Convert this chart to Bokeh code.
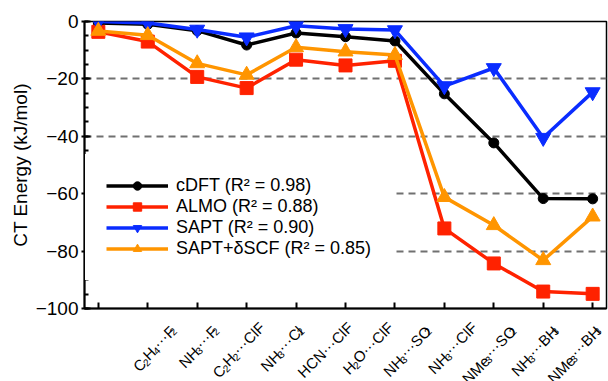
import math
from bokeh.plotting import figure
from bokeh.layouts import column
from bokeh.models import Range1d, FixedTicker
from bokeh.core.properties import value
from bokeh.embed import file_html
from bokeh.resources import INLINE

# Complexes along the x axis ("_d" marks a subscript digit)
complexes = [
    "C_2H_4\u00b7\u00b7\u00b7F_2",
    "NH_3\u00b7\u00b7\u00b7F_2",
    "C_2H_2\u00b7\u00b7\u00b7ClF",
    "NH_3\u00b7\u00b7\u00b7Cl_2",
    "HCN\u00b7\u00b7\u00b7ClF",
    "H_2O\u00b7\u00b7\u00b7ClF",
    "NH_3\u00b7\u00b7\u00b7SO_2",
    "NH_3\u00b7\u00b7\u00b7ClF",
    "NMe_3\u00b7\u00b7\u00b7SO_2",
    "NH_3\u00b7\u00b7\u00b7BH_3",
    "NMe_3\u00b7\u00b7\u00b7BH_3",
]

# Charge-transfer energies (kJ/mol)
cdft = [-0.5, -1.0, -3.2, -8.2, -4.0, -5.3, -6.8, -25.2, -42.3, -61.7, -61.8]
almo = [-3.6, -7.0, -19.3, -23.2, -13.3, -15.3, -13.7, -72.1, -84.3, -94.1, -94.9]
sapt = [0.0, -0.5, -2.8, -5.5, -1.5, -2.6, -3.0, -22.5, -16.2, -40.5, -24.6]
sapt_dscf = [-3.3, -4.8, -14.6, -18.6, -9.0, -10.5, -11.7, -61.2, -71.0, -83.2, -68.0]

y_ticks = [0, -20, -40, -60, -80, -100]
grid_levels = [-20, -40, -60, -80]

FONT = "Liberation Sans"
W = 608
LEFT, RIGHT, TOP, BOTTOM = 84, 2, 21, 10
MAIN_H = 318                 # frame bottom lands at MAIN_H - BOTTOM
STRIP_H = 381 - MAIN_H
X_LO, X_HI = -0.28, 10.28

p = figure(width=W, height=MAIN_H, output_backend="svg", toolbar_location=None,
           x_range=Range1d(X_LO, X_HI), y_range=Range1d(-100, 0),
           min_border_left=LEFT, min_border_right=RIGHT, min_border_top=TOP,
           min_border_bottom=BOTTOM)

p.outline_line_color = "black"
p.outline_line_width = 1.5
p.background_fill_color = "white"
p.border_fill_color = "white"

xs = list(range(len(complexes)))

series = [
    (cdft, "#000000", "circle", 10, "cDFT (R\u00b2 = 0.98)"),
    (almo, "#ff2200", "square", 13, "ALMO (R\u00b2 = 0.88)"),
    (sapt, "#0a2cff", "inverted_triangle", 15, "SAPT (R\u00b2 = 0.90)"),
    (sapt_dscf, "#ff9500", "triangle", 15, "SAPT+\u03b4SCF (R\u00b2 = 0.85)"),
]

for ys, color, marker, size, label in series:
    p.line(xs, ys, line_color=color, line_width=3.5, legend_label=label)
    p.scatter(xs, ys, marker=marker, size=size, fill_color=color,
              line_color=color, legend_label=label)

# Axes (category names are typeset in the strip below)
p.xaxis.ticker = FixedTicker(ticks=xs)
p.xaxis.major_label_overrides = {i: "" for i in xs}
p.xaxis.major_label_text_font_size = "0px"
p.xaxis.major_label_standoff = 0
p.xaxis.major_tick_in = 6
p.xaxis.major_tick_out = 0
p.xaxis.minor_tick_line_color = None

p.yaxis.ticker = FixedTicker(ticks=y_ticks, minor_ticks=list(range(-100, 1, 5)))
p.yaxis.major_label_overrides = {t: (("\u2212" + str(abs(t))) if t < 0 else str(t)) for t in y_ticks}
p.yaxis.major_tick_in = 6
p.yaxis.major_tick_out = 3
p.yaxis.minor_tick_in = 4
p.yaxis.minor_tick_out = 0
p.yaxis.major_label_standoff = 3
p.yaxis.axis_label = "CT Energy (kJ/mol)"
p.yaxis.axis_label_standoff = 2
p.yaxis.major_label_text_font = FONT
p.yaxis.major_label_text_font_size = "19px"
p.yaxis.major_label_text_color = "black"
p.yaxis.axis_label_text_font = FONT
p.yaxis.axis_label_text_font_size = "19px"
p.yaxis.axis_label_text_font_style = "normal"
p.yaxis.axis_label_text_color = "black"

for ax in (p.xaxis, p.yaxis):
    ax.axis_line_width = 2
    ax.axis_line_color = "black"
    ax.major_tick_line_width = 2
    ax.minor_tick_line_width = 2

# Dashed reference lines
p.xgrid.grid_line_color = None
p.ygrid.ticker = FixedTicker(ticks=grid_levels)
p.ygrid.grid_line_color = "#707070"
p.ygrid.grid_line_width = 1.8
p.ygrid.grid_line_dash = "7 5"

# Legend on an opaque white box
lg = p.legend[0]
lg.location = (1, 28)
lg.border_line_color = "white"
lg.background_fill_color = "white"
lg.background_fill_alpha = 1.0
lg.padding = 20
lg.spacing = 0
lg.glyph_width = 62
lg.glyph_height = 21
lg.label_height = 21
lg.label_standoff = 8
lg.label_text_font = FONT
lg.label_text_font_size = "18px"
lg.label_text_color = "black"

# Strip under the main panel holding the rotated category names.
# Both strip axes are in pixels so that text angles stay undistorted.
ppu = (W - LEFT - RIGHT) / (X_HI - X_LO)
strip = figure(width=W, height=STRIP_H, output_backend="svg", toolbar_location=None,
               x_range=Range1d(0, W), y_range=Range1d(0, STRIP_H),
               min_border_left=0, min_border_right=0, min_border_top=0,
               min_border_bottom=0)
strip.axis.visible = False
strip.grid.visible = False
strip.outline_line_color = None
strip.background_fill_color = "white"
strip.border_fill_color = "white"

ADV = {"C": 0.722, "H": 0.722, "N": 0.722, "M": 0.833, "O": 0.778, "F": 0.611,
       "S": 0.667, "B": 0.667, "l": 0.222, "e": 0.556, "\u00b7": 0.278}
DIGIT = 0.556
BASE_PX, SUB_PX, SUB_DROP = 15, 10, 4
END_DX, END_DY = 4, 18   # baseline end relative to the tick (right, down), pixels
c45 = math.cos(math.pi / 4)


def split_label(s):
    segs, buf, i = [], "", 0
    while i < len(s):
        if s[i] == "_":
            if buf:
                segs.append((buf, False))
                buf = ""
            segs.append((s[i + 1], True))
            i += 2
        else:
            buf += s[i]
            i += 1
    if buf:
        segs.append((buf, False))
    return segs


base = dict(x=[], y=[], text=[])
sub = dict(x=[], y=[], text=[])
for i, lab in enumerate(complexes):
    tick_px = LEFT + (i - X_LO) * ppu
    segs = split_label(lab)
    widths = [(len(t) * DIGIT * SUB_PX) if is_sub else sum(ADV.get(ch, 0.6) for ch in t) * BASE_PX
              for t, is_sub in segs]
    total = sum(widths)
    t0 = 0.0
    for (t, is_sub), w in zip(segs, widths):
        along = t0 - total
        drop = SUB_DROP * c45 if is_sub else 0.0
        dx = END_DX + along * c45 + drop          # pixels to the right of the tick
        dy = END_DY - along * c45 + drop          # pixels below the axis
        tgt = sub if is_sub else base
        tgt["x"].append(tick_px + dx)
        tgt["y"].append(STRIP_H - (dy - BOTTOM))
        tgt["text"].append(t)
        t0 += w

for src, size in ((base, BASE_PX), (sub, SUB_PX)):
    strip.text(x="x", y="y", text="text", source=src,
               angle=math.pi / 4, text_align="left", text_baseline="alphabetic",
               text_font=value(FONT), text_font_size=f"{size}px", text_color="black")

layout = column(p, strip, spacing=0)
open("out.html", "w").write(file_html(layout, INLINE))
